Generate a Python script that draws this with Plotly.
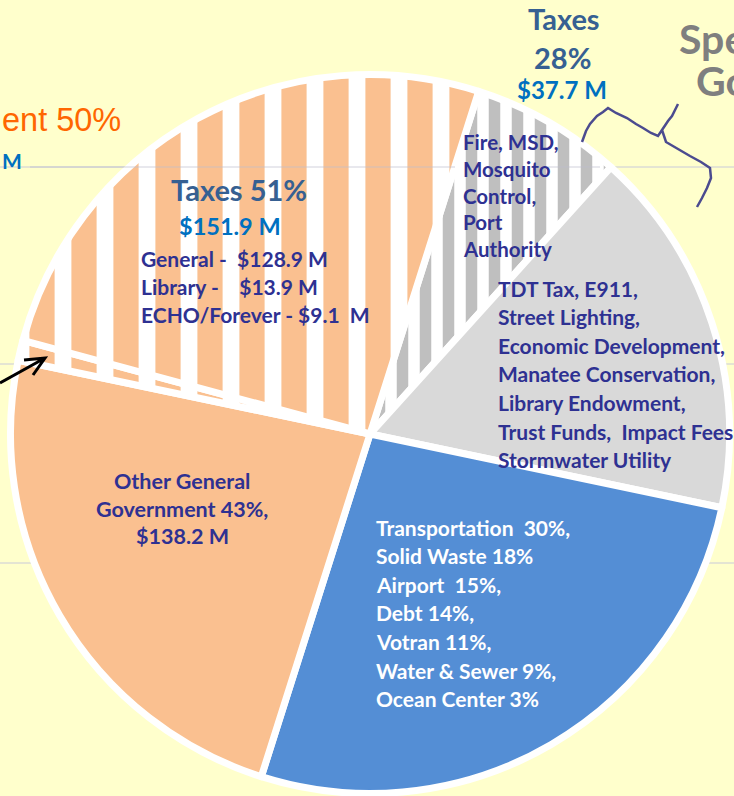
import plotly.graph_objects as go

W, H = 734, 796

# ---- data ----
slice_labels = ["Special Taxes", "Other Special Revenue", "Enterprise & Other",
                "Other General Government", "General Other", "General Taxes"]
slice_values = [6.8, 16.6, 26.6, 23.4, 0.9, 25.7]
slice_colors = ["#FFFFFF", "#D9D9D9", "#548ED5", "#FAC090", "#FAC090", "#FAC090"]

special_tax_lines = ["Fire, MSD,", "Mosquito", "Control,", "Port", "Authority"]
special_other_lines = ["TDT Tax, E911,", "Street Lighting,", "Economic Development,",
                       "Manatee Conservation,", "Library Endowment,",
                       "Trust Funds,  Impact Fees", "Stormwater Utility"]
enterprise_lines = ["Transportation  30%,", "Solid Waste 18%", "Airport  15%,",
                    "Debt 14%,", "Votran 11%,", "Water & Sewer 9%,", "Ocean Center 3%"]
other_gen_lines = ["Other General", "Government 43%,", "$138.2 M"]
gen_tax_lines = ["General -  $128.9 M", "Library -    $13.9 M", "ECHO/Forever - $9.1  M"]

NAVY = "#2E3192"
STEEL = "#366092"
BLUE = "#0070C0"
FONT = "Lato"

fig = go.Figure()

fig.add_trace(go.Pie(
    labels=slice_labels,
    values=slice_values,
    sort=False,
    direction="clockwise",
    rotation=17.6,
    textinfo="none",
    hoverinfo="label+percent",
    showlegend=False,
    marker=dict(
        colors=slice_colors,
        line=dict(color="white", width=7),
        pattern=dict(
            shape=["|", "", "", "", "|", "|"],
            fgcolor=["#BFBFBF", "white", "white", "white", "white", "white"],
            bgcolor=["white", "#D9D9D9", "#548ED5", "#FAC090", "#FAC090", "#FAC090"],
            size=[23, 10, 10, 10, 42, 42],
            solidity=[0.5, 0.5, 0.5, 0.5, 0.4, 0.4],
        ),
    ),
    domain=dict(x=[10.5 / W, 729.5 / W], y=[1 - 793.5 / H, 1 - 74.5 / H]),
))


def px(x, y):
    return x / W, 1 - y / H


anns = []


def txt(t, x, y, size, color, weight=700, xanchor="left", family=FONT):
    ax, ay = px(x, y)
    anns.append(dict(text=t, x=ax, y=ay, xref="paper", yref="paper",
                     xanchor=xanchor, yanchor="middle", showarrow=False,
                     font=dict(family=family, size=size, color=color, weight=weight)))


# top "Taxes 28%"
txt("Taxes", 564, 18, 29, STEEL, xanchor="center")
txt("28%", 562, 57, 29, STEEL, xanchor="center")
txt("$37.7 M", 562, 90, 24, BLUE, xanchor="center")
# cropped "Special Government"
txt("Spe", 677, 38, 41, "#7F7F7F")
txt("Go", 694, 80, 41, "#7F7F7F")
# cropped "General Government 50%"
txt("ent 50%", 0, 120, 32.5, "#FF6600", weight=400, family="Liberation Sans")
txt("M", 0, 160, 21, BLUE)

# general taxes
txt("Taxes 51%", 169, 190, 29, STEEL)
txt("$151.9 M", 177, 226, 23.5, BLUE)
for i, t in enumerate(gen_tax_lines):
    txt(t, 139, 258 + 28 * i, 21, NAVY)

# special taxes
for i, t in enumerate(special_tax_lines):
    txt(t, 461, 142 + 26.8 * i, 20.5, NAVY)

# other special revenue
for i, t in enumerate(special_other_lines):
    txt(t, 496, 288 + 28.6 * i, 21, NAVY)

# enterprise
for i, t in enumerate(enterprise_lines):
    txt(t, 374, 527 + 28.6 * i, 21, "white")

# other general government
for i, t in enumerate(other_gen_lines):
    txt(t, 182, 481 + 27.5 * i, 21.5, NAVY, xanchor="center")

fig.update_layout(annotations=anns)


def path(points_groups):
    s = ""
    for grp in points_groups:
        for j, (x, y) in enumerate(grp):
            X, Y = px(x, y)
            s += ("M" if j == 0 else "L") + f"{X:.5f},{Y:.5f} "
    return s.strip()


shapes = []
# background horizontal grid lines
for gy in [167, 364, 563]:
    _, gy0 = px(0, gy)
    shapes.append(dict(type="line", xref="paper", yref="paper", x0=0, x1=1, y0=gy0, y1=gy0,
                       line=dict(color="#C9CAD9", width=1), layer="below"))
# faint line showing across the striped slice
_, gyy = px(0, 167)
shapes.append(dict(type="line", xref="paper", yref="paper", x0=px(30, 0)[0], x1=px(455, 0)[0],
                   y0=gyy, y1=gyy, line=dict(color="rgba(190,190,205,0.7)", width=1), layer="above"))
shapes.append(dict(type="line", xref="paper", yref="paper", x0=px(540, 0)[0], x1=px(600, 0)[0],
                   y0=gyy, y1=gyy, line=dict(color="rgba(190,190,205,0.7)", width=1), layer="above"))

# hand drawn brace
brace = path([
    [(582, 142), (586, 131), (590, 124), (597, 116), (603, 112), (608, 108), (616, 113),
     (627, 118), (636, 124), (643, 128), (651, 133), (658, 136), (662, 130), (668, 121),
     (672, 116), (678, 104)],
    [(662, 130), (666, 142), (678, 149), (690, 156), (701, 162), (710, 168), (711, 178),
     (707, 188), (702, 198), (697, 207)],
])
shapes.append(dict(type="path", xref="paper", yref="paper", path=brace,
                   line=dict(color="#4B4B8F", width=2.5), layer="above"))

# black arrow on the left
arrow = path([[(0, 383), (45, 358)], [(24, 360), (45, 358), (33, 375)]])
shapes.append(dict(type="path", xref="paper", yref="paper", path=arrow,
                   line=dict(color="black", width=3), layer="above"))

fig.update_layout(
    shapes=shapes,
    width=W, height=H,
    margin=dict(l=0, r=0, t=0, b=0),
    paper_bgcolor="#FFFFCC",
    plot_bgcolor="#FFFFCC",
)

fig.write_html("out.html",
               config={"displayModeBar": False},
               post_script="document.body.style.margin='0px';document.body.style.overflow='hidden';")
